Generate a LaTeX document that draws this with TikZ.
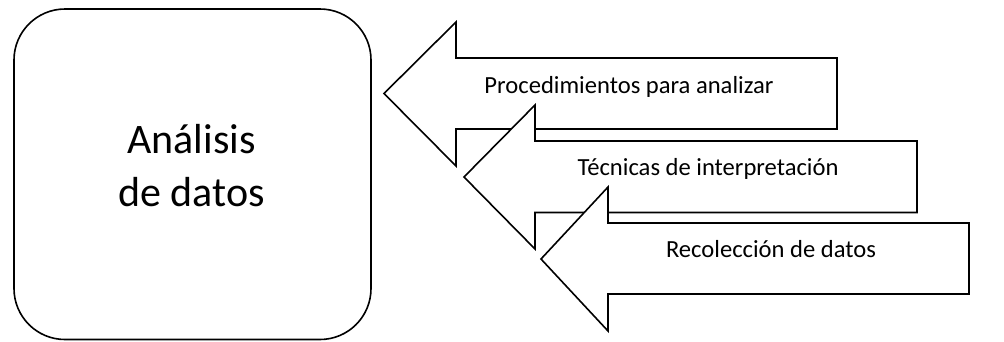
\documentclass[tikz,border=0pt]{standalone}
\usepackage{fontspec}
\setmainfont{Carlito}
\begin{document}
\begin{tikzpicture}[x=1pt,y=-1pt,
  outline/.style={draw=black,line width=1.6pt,line join=miter,fill=white},
  arrowlabel/.style={anchor=base,inner sep=0pt,font=\fontsize{24.6}{30}\selectfont},
  bigbox/.style={draw=black,line width=1.6pt,rounded corners=51pt}]
\useasboundingbox (0,0) rectangle (1004,341);
% main box
\draw[bigbox] (14,9) rectangle (371,339.5);
\node[anchor=base,inner sep=0pt,align=center,font=\fontsize{42}{53}\selectfont] (title) at (191.5,206) {Análisis\\de datos};
% arrow 1
\draw[outline] (384,93.5) -- (456,22) -- (456,58) -- (837,58) -- (837,129) -- (456,129) -- (456,166) -- cycle;
\node[arrowlabel] (a1) at (629,93) {Procedimientos para analizar};
% arrow 2
\draw[outline] (464,177) -- (535,105) -- (535,141) -- (917,141) -- (917,212.5) -- (535,212.5) -- (535,249) -- cycle;
\node[arrowlabel] (a2) at (708,175) {Técnicas de interpretación};
% arrow 3
\draw[outline] (541,259) -- (608,187) -- (608,223) -- (969,223) -- (969,294) -- (608,294) -- (608,331) -- cycle;
\node[arrowlabel] (a3) at (771,257) {Recolección de datos};
\end{tikzpicture}
\end{document}
